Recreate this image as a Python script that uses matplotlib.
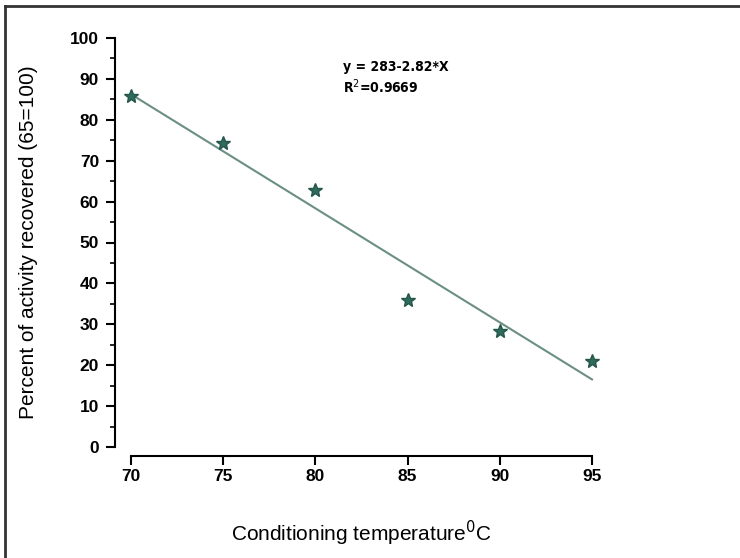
import numpy as np
import matplotlib
matplotlib.use("Agg")
import matplotlib.pyplot as plt
from matplotlib.lines import Line2D
from matplotlib.ticker import MultipleLocator

# data
temps = [70, 75, 80, 85, 90, 95]
recovered = [85.8, 74.3, 62.8, 35.9, 28.4, 21.1]
xticks = [70, 75, 80, 85, 90, 95]
yticks = list(range(0, 101, 10))
eq_text = "y = 283-2.82*X"
r2_text = "R$^2$=0.9669"

plt.rcParams['font.family'] = ['Liberation Sans', 'DejaVu Sans']

fig = plt.figure(figsize=(7.4, 5.58), dpi=100)
ax = fig.add_axes([131/740, 1 - 447/558, (592 - 131)/740, (447 - 38)/558])

# regression line through the points
coeff = np.polyfit(temps, recovered, 1)
x_fit = np.array([temps[0], temps[-1]])
ax.plot(x_fit, np.polyval(coeff, x_fit), color="#6b8f82", lw=1.5, clip_on=False)
ax.plot(temps, recovered, linestyle="none", marker="*", markersize=10,
        color="#2f6b5c", markeredgecolor="#24564a", clip_on=False, zorder=3)

ax.set_xlim(70, 95)
ax.set_ylim(0, 100)
ax.set_xticks(xticks)
ax.set_yticks(yticks)
ax.yaxis.set_minor_locator(MultipleLocator(5))

for s in ["top", "right"]:
    ax.spines[s].set_visible(False)
ax.spines["left"].set_position(("outward", 11.5))
ax.spines["bottom"].set_position(("outward", 6.5))
ax.spines["left"].set_linewidth(1.5)
ax.spines["bottom"].set_linewidth(1.5)

ax.tick_params(axis="both", which="major", direction="out", length=6.5, width=1.5,
               labelsize=12.5)
ax.tick_params(axis="y", which="major", pad=5)
ax.tick_params(axis="x", which="major", pad=3)
ax.tick_params(axis="y", which="minor", direction="out", length=3.5, width=1.2)
for lab in ax.get_xticklabels() + ax.get_yticklabels():
    lab.set_fontweight("bold")

ax.set_xlabel("Conditioning temperature$^{0}$C", fontsize=15, labelpad=25)
ax.set_ylabel("Percent of activity recovered (65=100)", fontsize=15, labelpad=23)

ax.text(81.5, 92.8, eq_text, fontsize=10, fontweight="bold",
        family="DejaVu Sans", fontstretch="condensed", va="center")
ax.text(81.5, 88.0, r2_text, fontsize=10, fontweight="bold",
        family="DejaVu Sans", fontstretch="condensed", va="center")

# frame around the figure (left and top edges)
fig.add_artist(Line2D([5/740, 5/740], [0, 1 - 6/558], color="#333333", lw=2))
fig.add_artist(Line2D([5/740, 1], [1 - 6/558, 1 - 6/558], color="#333333", lw=2))

fig.savefig("out.png", dpi=100)
